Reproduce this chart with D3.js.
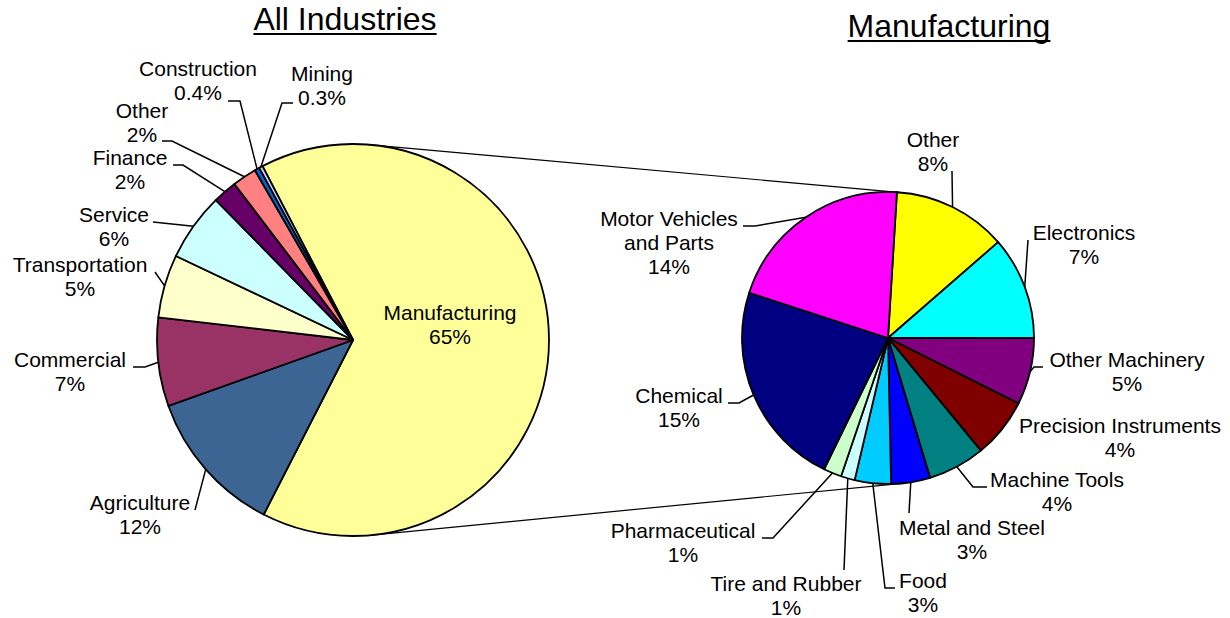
<!DOCTYPE html>
<html>
<head>
<meta charset="utf-8">
<script src="https://cdn.jsdelivr.net/npm/d3@7"></script>
<style>
    body { margin: 0; background: #fff; }
    text { font-family: "Liberation Sans", Arial, sans-serif; fill: #000; }
</style>
</head>
<body>
<svg id="chart" width="1230" height="618"></svg>
<script>
// All industries (share of total, %)
const allNames = ['Manufacturing', 'Agriculture', 'Commercial', 'Transportation', 'Service',
    'Finance', 'Other', 'Construction', 'Mining'];
const allValues = [65.1, 12.0, 7.3, 5.2, 5.6, 2.0, 2.0, 0.4, 0.3];
const allColors = ['#ffff99', '#3d6594', '#993366', '#ffffcc', '#ccffff',
    '#660066', '#ff8080', '#0066cc', '#ccccff'];

// Manufacturing breakdown (share of total, %)
const mfgNames = ['Other', 'Electronics', 'Other Machinery', 'Precision Instruments', 'Machine Tools',
    'Metal and Steel', 'Food', 'Tire and Rubber', 'Pharmaceutical', 'Chemical', 'Motor Vehicles\nand Parts'];
const mfgValues = [8.2, 7.4, 4.8, 4.3, 4.1, 2.8, 2.6, 1.0, 1.3, 14.8, 13.6];
const mfgColors = ['#ffff00', '#00ffff', '#800080', '#800000', '#008080',
    '#0000ff', '#00ccff', '#ccffff', '#ccffcc', '#000080', '#ff00ff'];

const titles = ['All Industries', 'Manufacturing'];

// label placement: x = centre of text, y = baseline of first line, leader = elbow points
const allLabelPos = [
    { x: 450, y: 320, leader: null },
    { x: 140, y: 510, leader: [[195, 510]] },
    { x: 70, y: 367, leader: [[133, 367], [145, 367]] },
    { x: 80, y: 272, leader: [[155, 272]] },
    { x: 114, y: 222, leader: [[153, 222]] },
    { x: 130, y: 165, leader: [[173, 165], [183, 165]] },
    { x: 142, y: 118, leader: [[162, 141], [172, 141]] },
    { x: 198, y: 76, leader: [[228, 101], [240, 101]] },
    { x: 322, y: 81, leader: [[293, 103], [282, 103]] }
];
const mfgLabelPos = [
    { x: 933, y: 147, leader: [[952, 171]] },
    { x: 1084, y: 240, leader: [[1028, 240]] },
    { x: 1127, y: 367, leader: [[1043, 367], [1034, 367]] },
    { x: 1120, y: 433, leader: null },
    { x: 1057, y: 487, leader: [[987, 487], [973, 487]] },
    { x: 972, y: 535, leader: [[909, 513]] },
    { x: 923, y: 588, leader: [[895, 588], [885, 588]] },
    { x: 786, y: 591, leader: [[844, 570]] },
    { x: 683, y: 538, leader: [[762, 538], [773, 538]] },
    { x: 679, y: 403, leader: [[728, 403], [739, 403]] },
    { x: 669, y: 226, leader: [[743, 226], [755, 226]] }
];

const svg = d3.select('#chart');
const lineH = 24;
const deg = Math.PI / 180;

const pies = [
    { names: allNames, values: allValues, colors: allColors, labels: allLabelPos,
      cx: 353, cy: 340, r: 196, start: -27.5 * deg, title: titles[0], tx: 345, ty: 30 },
    { names: mfgNames, values: mfgValues, colors: mfgColors, labels: mfgLabelPos,
      cx: 888, cy: 338, r: 146, start: 3.5 * deg, title: titles[1], tx: 949, ty: 37 }
];

const pctText = v => (v < 1 ? v.toFixed(1) : Math.round(v)) + '%';

// connector lines: outer tangents between the two circles
(function drawConnectors() {
    const a = pies[0], b = pies[1];
    const dx = b.cx - a.cx, dy = b.cy - a.cy;
    const d = Math.hypot(dx, dy);
    const base = Math.atan2(dy, dx);
    const off = Math.acos((a.r - b.r) / d);
    [base - off, base + off].forEach(t => {
        svg.append('line')
            .attr('x1', a.cx + a.r * Math.cos(t)).attr('y1', a.cy + a.r * Math.sin(t))
            .attr('x2', b.cx + b.r * Math.cos(t)).attr('y2', b.cy + b.r * Math.sin(t))
            .attr('stroke', '#000').attr('stroke-width', 1.2);
    });
})();

pies.forEach(p => {
    const pie = d3.pie().sort(null).value(d => d)
        .startAngle(p.start).endAngle(p.start + 2 * Math.PI);
    const arcs = pie(p.values);
    const arc = d3.arc().innerRadius(0).outerRadius(p.r);

    const g = svg.append('g').attr('transform', `translate(${p.cx},${p.cy})`);
    g.selectAll('path')
        .data(arcs)
        .join('path')
        .attr('d', arc)
        .attr('fill', (d, i) => p.colors[i])
        .attr('stroke', '#000')
        .attr('stroke-width', 1.8)
        .attr('stroke-linejoin', 'round');

    // leader lines
    arcs.forEach((a, i) => {
        const pos = p.labels[i];
        if (!pos.leader) return;
        const mid = (a.startAngle + a.endAngle) / 2;
        const end = [p.cx + p.r * Math.sin(mid), p.cy - p.r * Math.cos(mid)];
        svg.append('path')
            .attr('d', d3.line()([...pos.leader, end]))
            .attr('fill', 'none')
            .attr('stroke', '#000')
            .attr('stroke-width', 1.5);
    });

    // labels
    arcs.forEach((a, i) => {
        const pos = p.labels[i];
        const lines = p.names[i].split('\n').concat(pctText(p.values[i]));
        const t = svg.append('text')
            .attr('text-anchor', 'middle')
            .style('font-size', '21px');
        lines.forEach((s, k) => {
            t.append('tspan').attr('x', pos.x).attr('y', pos.y + k * lineH).text(s);
        });
    });

    // underlined title
    const title = svg.append('text')
        .attr('x', p.tx).attr('y', p.ty)
        .attr('text-anchor', 'middle')
        .style('font-size', '32px')
        .text(p.title);
    const w = title.node().getComputedTextLength();
    svg.append('line')
        .attr('x1', p.tx - w / 2).attr('x2', p.tx + w / 2)
        .attr('y1', p.ty + 4).attr('y2', p.ty + 4)
        .attr('stroke', '#000').attr('stroke-width', 2);
});
</script>
</body>
</html>
